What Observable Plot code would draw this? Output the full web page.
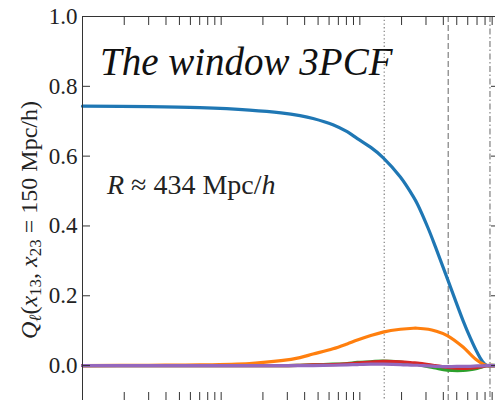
<!DOCTYPE html>
<html><head><meta charset="utf-8">
<script src="https://cdn.jsdelivr.net/npm/d3@7"></script>
<script src="https://cdn.jsdelivr.net/npm/@observablehq/plot@0.6"></script>
<style>html,body{margin:0;padding:0;overflow:hidden;background:#fff} svg{max-width:none !important;}</style>
</head><body><div id="chart"></div>
<script>
// x12 separation (Mpc/h), log axis
const xs = [1, 3, 7, 16, 27, 37, 46, 64, 81, 96, 120, 147, 196, 243, 260, 312, 351, 427, 555, 625, 701, 760, 826, 1000];
const q0 = [0.743, 0.742, 0.739, 0.732, 0.724, 0.716, 0.708, 0.690, 0.670, 0.650, 0.625, 0.596, 0.540, 0.484, 0.463, 0.392, 0.340, 0.250, 0.129, 0.080, 0.038, 0.014, 0.0, 0.0];
const q1 = [0.000, 0.001, 0.002, 0.006, 0.014, 0.023, 0.033, 0.048, 0.062, 0.073, 0.086, 0.096, 0.104, 0.107, 0.107, 0.104, 0.099, 0.086, 0.053, 0.033, 0.015, 0.006, 0.0, 0.0];
const q2 = [0, 0, 0, 0, 0, 0.001, 0.002, 0.004, 0.006, 0.009, 0.011, 0.013, 0.010, 0.005, 0.003, -0.003, -0.007, -0.013, -0.014, -0.012, -0.008, -0.004, 0, 0];
const q3 = [0, 0, 0, 0, 0, 0.001, 0.002, 0.003, 0.005, 0.007, 0.010, 0.012, 0.011, 0.008, 0.007, 0.003, 0.000, -0.005, -0.008, -0.007, -0.005, -0.003, 0, 0];
const q4 = [0, 0, 0, 0, 0, 0, 0, 0.001, 0.002, 0.003, 0.004, 0.004, 0.003, 0.001, 0.001, -0.001, -0.002, -0.003, -0.002, -0.002, -0.001, -0.001, 0, 0];
const seriesNames = ["l0", "l1", "l2", "l3", "l4"];
const seriesColors = ["#1f77b4", "#ff7f0e", "#2ca02c", "#d62728", "#9467bd"];
const yTicks = [0.0, 0.2, 0.4, 0.6, 0.8, 1.0];
const xTicks = [1,2,3,4,5,6,7,8,9,10,20,30,40,50,60,70,80,90,100,200,300,400,500,600,700,800,900,1000];
const refLines = [150, 434, 868];
const refDash = ["1.3,2.4", "6,3", "6,2.5,1.5,2.5"];

const series = [q0, q1, q2, q3, q4];
const rows = [];
series.forEach((vals, i) => vals.forEach((v, j) => rows.push({x: xs[j], v, s: seriesNames[i]})));
const refRows = refLines.map((x, i) => ({x, dash: refDash[i]}));

const plot = Plot.plot({
  width: 500, height: 402,
  marginLeft: 82, marginRight: 2, marginTop: 16, marginBottom: 2,
  x: {type: "log", domain: [1, 1000], label: null},
  y: {domain: [-0.1, 1.0], label: null},
  color: {domain: seriesNames, range: seriesColors},
  style: {fontFamily: "Liberation Serif", fontSize: "23px", color: "#222", background: "white", overflow: "visible"},
  marks: [
    ...refRows.map(r => Plot.ruleX([r.x], {stroke: "#8a8a8a", strokeWidth: 1.3, strokeDasharray: r.dash})),
    Plot.line(rows, {x: "x", y: "v", z: "s", stroke: "s", strokeWidth: 3.2, curve: "catmull-rom"}),
    Plot.frame({stroke: "#333", strokeWidth: 1}),
    Plot.axisY(yTicks, {anchor: "left", tickSize: 8, dx: 8, tickPadding: 5, stroke: "#333", tickFormat: d3.format(".1f"), label: null}),
    Plot.axisY(yTicks, {anchor: "right", tickSize: 8, dx: -8, stroke: "#333", tickFormat: () => "", label: null}),
    Plot.axisX(xTicks, {anchor: "top", tickSize: 8, dy: 8, stroke: "#333", tickFormat: () => "", label: null}),
    Plot.axisX(xTicks, {anchor: "bottom", tickSize: 8, dy: -8, stroke: "#333", tickFormat: () => "", label: null})
  ]
});
plot.style.maxWidth = "none";
document.getElementById("chart").appendChild(plot);

const svg = d3.select(plot);
svg.append("text")
  .attr("x", 100).attr("y", 75).attr("text-anchor", "start")
  .attr("font-family", "Liberation Serif").attr("font-style", "italic")
  .attr("font-size", 39).attr("fill", "#111")
  .text("The window 3PCF");

const r = svg.append("text")
  .attr("x", 107).attr("y", 194).attr("text-anchor", "start")
  .attr("font-family", "Liberation Serif").attr("font-size", 28).attr("fill", "#222");
r.append("tspan").attr("font-style", "italic").text("R");
r.append("tspan").text(" ≈ 434 Mpc/");
r.append("tspan").attr("font-style", "italic").text("h");

const yl = svg.append("text")
  .attr("transform", "translate(37,220) rotate(-90)")
  .attr("text-anchor", "middle")
  .attr("font-family", "Liberation Serif").attr("font-size", 24).attr("fill", "#222");
yl.append("tspan").attr("font-style", "italic").text("Q");
yl.append("tspan").attr("font-style", "italic").attr("font-size", 17).attr("dy", 4).text("ℓ");
yl.append("tspan").attr("dy", -4).text("(");
yl.append("tspan").attr("font-style", "italic").text("x");
yl.append("tspan").attr("font-size", 17).attr("dy", 4).text("13");
yl.append("tspan").attr("dy", -4).text(", ");
yl.append("tspan").attr("font-style", "italic").text("x");
yl.append("tspan").attr("font-size", 17).attr("dy", 4).text("23");
yl.append("tspan").attr("dy", -4).text(" = 150 Mpc/h)");
</script>
</body></html>
